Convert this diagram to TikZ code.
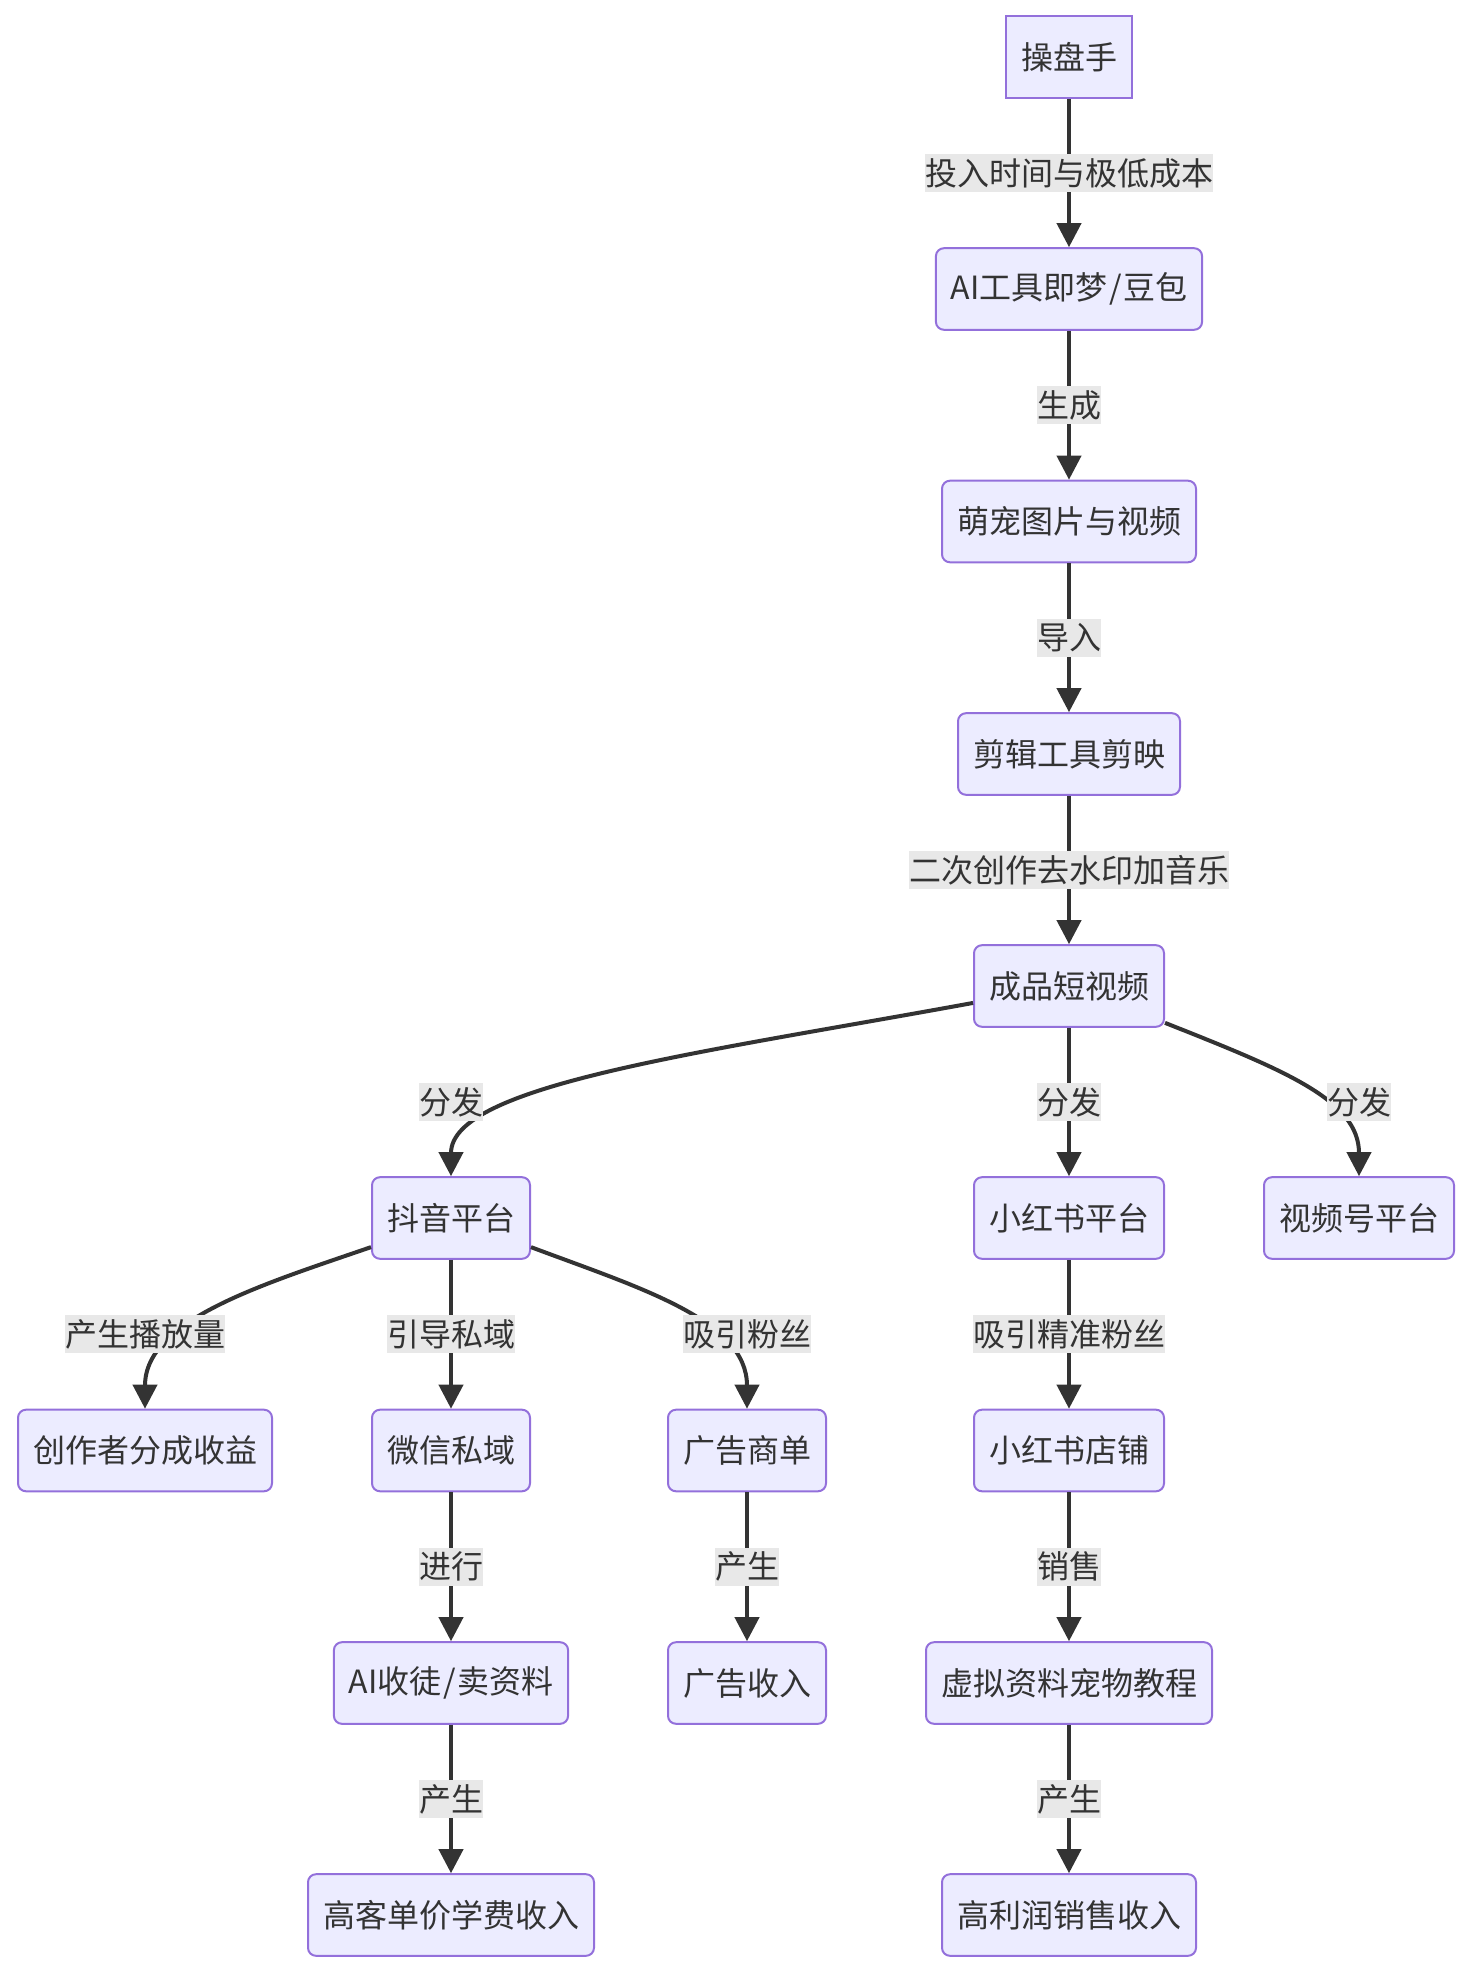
\documentclass[tikz,border=0pt]{standalone}
\usepackage{fontspec}
\setmainfont{Noto Sans CJK SC}
\usetikzlibrary{arrows.meta}
\definecolor{boxfill}{HTML}{ECECFF}
\definecolor{boxline}{HTML}{9370DB}
\definecolor{linec}{HTML}{333333}
\definecolor{lblfill}{HTML}{E8E8E8}

\begin{document}
\begin{tikzpicture}[x=0.5pt, y=-0.5pt, >={Triangle[width=12pt,length=12pt]},
  every node/.style={font=\fontsize{16pt}{19pt}\selectfont, text=linec},
  box/.style={draw=boxline, fill=boxfill, line width=1pt, rounded corners=4pt, minimum height=40.8pt, inner xsep=7.5pt, inner ysep=0pt},
  sqbox/.style={box, sharp corners},
  lbl/.style={fill=lblfill, inner xsep=0pt, inner ysep=0pt, minimum height=19pt},
  link/.style={->, draw=linec, line width=2pt}]

  \useasboundingbox (0,0) rectangle (1472,1974);

  % ===== Production chain (x=1069) =====
  \node[sqbox] (cps) at (1069,57)   {操盘手};
  \node[box]   (ai)  at (1069,289)  {AI工具即梦\kern0.7pt/\kern0.7pt豆包};
  \node[box]   (mc)  at (1069,521.5) {萌宠图片与视频};
  \node[box]   (jy)  at (1069,754)  {剪辑工具剪映};
  \node[box]   (cp)  at (1069,986)  {成品短视频};

  % ===== Platforms =====
  \node[box] (dy)  at (451,1218)  {抖音平台};
  \node[box] (xhs) at (1069,1218) {小红书平台};
  \node[box] (sph) at (1359,1218) {视频号平台};

  % ===== Channels =====
  \node[box] (fc) at (145,1450.5)  {创作者分成收益};
  \node[box] (wx) at (451,1450.5)  {微信私域};
  \node[box] (gg) at (747,1450.5)  {广告商单};
  \node[box] (dp) at (1069,1450.5) {小红书店铺};

  % ===== Income =====
  \node[box] (st) at (451,1683)  {AI收徒\kern0.7pt/\kern0.7pt卖资料};
  \node[box] (gs) at (747,1683)  {广告收入};
  \node[box] (jc) at (1069,1683) {虚拟资料宠物教程};
  \node[box] (xf) at (451,1915)  {高客单价学费收入};
  \node[box] (xs) at (1069,1915) {高利润销售收入};

  % Straight links
  \foreach \a/\b/\t in {cps/ai/投入时间与极低成本, ai/mc/生成, mc/jy/导入,
      jy/cp/二次创作去水印加音乐, cp/xhs/分发, dy/wx/引导私域, xhs/dp/吸引精准粉丝,
      wx/st/进行, gg/gs/产生, dp/jc/销售, st/xf/产生, jc/xs/产生}
    \draw[link] (\a) -- node[lbl] (lb-\b) {\t} (\b);

  % Curved links
  \draw[link] (cp.190) .. controls (700,1053) and (451,1085) .. (dy.north);
  \draw[link] (cp.339) .. controls (1284,1070) and (1359,1100) .. (sph.north);
  \draw[link] (dy.200) .. controls (261,1285) and (145,1320) .. (fc.north);
  \draw[link] (dy.340) .. controls (640,1288) and (747,1320) .. (gg.north);

  \node[lbl] (lb-dy)  at (451,1102)  {分发};
  \node[lbl] (lb-sph) at (1359,1102) {分发};
  \node[lbl] (lb-fc)  at (145,1334)  {产生播放量};
  \node[lbl] (lb-gg)  at (747,1334)  {吸引粉丝};

\end{tikzpicture}
\end{document}
